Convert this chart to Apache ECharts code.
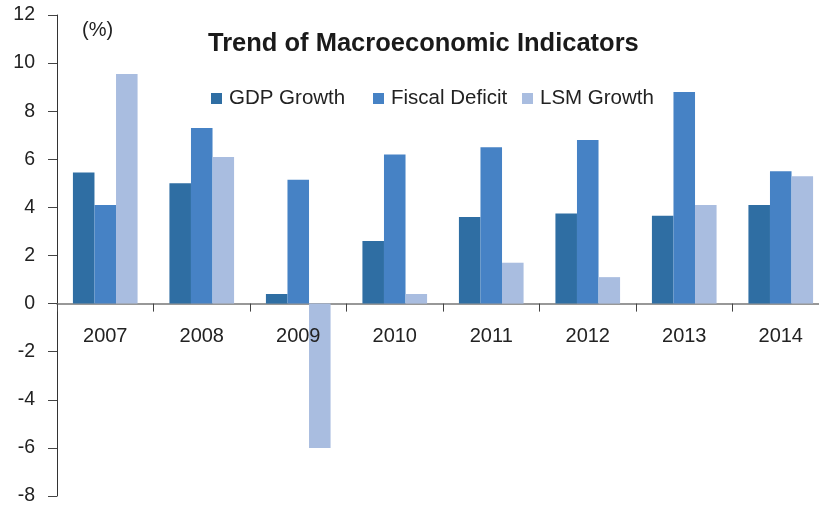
<!DOCTYPE html>
<html>
<head>
<meta charset="utf-8">
<script src="https://cdn.jsdelivr.net/npm/echarts@6/dist/echarts.min.js"></script>
<style>
  html, body { margin: 0; padding: 0; background: #fff; }
  #chart { width: 819px; height: 508px; }
</style>
</head>
<body>
<div id="chart"></div>
<script>
const categories = ['2007', '2008', '2009', '2010', '2011', '2012', '2013', '2014'];
const gdpGrowth = [5.45, 5.0, 0.4, 2.6, 3.6, 3.75, 3.65, 4.1];
const fiscalDeficit = [4.1, 7.3, 5.15, 6.2, 6.5, 6.8, 8.8, 5.5];
const lsmGrowth = [9.55, 6.1, -6.0, 0.4, 1.7, 1.1, 4.1, 5.3];
const yMin = -8, yMax = 12, yStep = 2;
const seriesNames = ['GDP Growth', 'Fiscal Deficit', 'LSM Growth'];
const colors = ['#2F6EA3', '#4682C5', '#A9BDE0'];

const FONT = 'Liberation Sans, Arial, sans-serif';
const chart = echarts.init(document.getElementById('chart'), null, { renderer: 'canvas' });

const GRID_TOP = 15, GRID_H = 481, GRID_LEFT = 57, GRID_W = 772;
const zeroOffset = GRID_H * (yMax - 0) / (yMax - yMin);

const mk = (name, data, color) => ({
  name, type: 'bar', data,
  itemStyle: { color },
  barGap: '0%',
  barCategoryGap: '33%',
  animation: false
});

const legendAt = (name, left) => ({
  data: [name],
  left, top: 83,
  itemWidth: 11, itemHeight: 11,
  icon: 'rect',
  textStyle: { fontFamily: FONT, fontSize: 20.5, color: '#222', padding: [0, 0, 0, 2] }
});

chart.setOption({
  animation: false,
  textStyle: { fontFamily: FONT },
  title: {
    text: 'Trend of Macroeconomic Indicators',
    left: 203, top: 26,
    textStyle: { fontFamily: FONT, fontSize: 25.5, fontWeight: 'bold', color: '#1a1a1a' }
  },
  legend: [
    legendAt(seriesNames[0], 206),
    legendAt(seriesNames[1], 368),
    legendAt(seriesNames[2], 517)
  ],
  graphic: [{
    type: 'text', left: 82, top: 20,
    style: { text: '(%)', fontFamily: FONT, fontSize: 20, fill: '#222' }
  }],
  grid: [
    { left: GRID_LEFT, top: GRID_TOP, width: GRID_W, height: GRID_H, outerBoundsMode: 'none', containLabel: false },
    { left: GRID_LEFT, top: GRID_TOP, width: GRID_W, height: zeroOffset, outerBoundsMode: 'none', containLabel: false }
  ],
  xAxis: [{
    type: 'category',
    gridIndex: 0,
    data: categories,
    axisLine: { onZero: true, lineStyle: { color: '#777', width: 1.5 } },
    axisTick: { show: true, length: 8, lineStyle: { color: '#444' } },
    axisLabel: { show: false },
    splitLine: { show: false }
  }, {
    type: 'category',
    gridIndex: 1,
    z: 10,
    data: categories,
    axisLine: { show: false },
    axisTick: { show: false },
    axisLabel: { fontFamily: FONT, fontSize: 20, color: '#222', margin: 23 },
    splitLine: { show: false }
  }],
  yAxis: [{
    type: 'value',
    gridIndex: 0,
    min: yMin, max: yMax, interval: yStep,
    axisLine: { show: true, lineStyle: { color: '#333', width: 1 } },
    axisTick: { show: true, length: 9, lineStyle: { color: '#444' } },
    axisLabel: { fontFamily: FONT, fontSize: 19.5, color: '#222', margin: 22 },
    splitLine: { show: false }
  }, {
    type: 'value',
    gridIndex: 1,
    min: 0, max: yMax,
    show: false
  }],
  series: [
    mk(seriesNames[0], gdpGrowth, colors[0]),
    mk(seriesNames[1], fiscalDeficit, colors[1]),
    mk(seriesNames[2], lsmGrowth, colors[2])
  ]
});
</script>
</body>
</html>
